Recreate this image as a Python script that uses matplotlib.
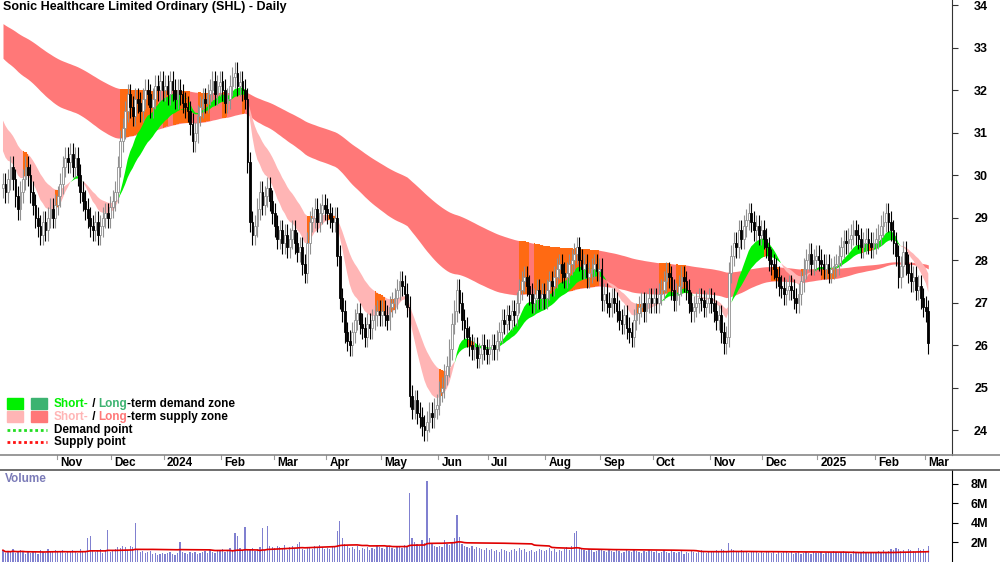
import numpy as np
import pandas as pd
import matplotlib
matplotlib.use("Agg")
import matplotlib.pyplot as plt

title = "Sonic Healthcare Limited Ordinary (SHL) - Daily"
month_labels = ["Oct", "Nov", "Dec", "2024", "Feb", "Mar", "Apr", "May", "Jun", "Jul", "Aug", "Sep",
                "Oct", "Nov", "Dec", "2025", "Feb", "Mar"]
closes_by_month = [
    [29.8,29.6,29.9,30.2,29.9,29.5,29.2,29.6,29.9,30.2,30.0,29.6,29.3,29.0,28.8,28.6,28.9,28.7,29.0,29.2,29.0,29.3],
    [29.5,29.8,30.2,30.4,30.3,30.5,30.2,30.4,30.0,29.6,29.4,29.2,29.0,28.8,28.7,28.9,28.6,28.8,29.0,29.1,29.0,29.25],
    [29.4,29.6,30.2,30.8,31.1,31.5,31.9,31.6,31.4,31.8,31.7,31.5,31.8,32.0,31.9,31.6,31.8,32.1,32.0,32.2,32.0],
    [32.1,31.9,32.2,32.0,31.8,32.0,31.9,31.7,31.6,31.5,31.2,30.8,31.0,31.4,31.6,31.8,31.7,31.9,32.0,32.2,31.9,32.1,32.2],
    [32.0,31.7,31.8,32.1,32.3,32.4,32.1,32.2,32.0,31.8,30.3,28.9,28.6,28.8,29.2,29.6,29.3,29.5,29.7,29.4,29.1],
    [28.8,28.5,28.7,28.4,28.6,28.3,28.5,28.7,28.4,28.2,28.3,27.9,27.7,28.4,28.9,29.0,29.2,28.9,29.1,29.3,29.2],
    [29.1,29.0,28.9,29.0,28.1,27.1,26.8,26.3,26.1,26.0,26.3,26.6,26.75,26.5,26.4,26.2,26.5,26.4,26.6,26.7,26.8,26.7],
    [26.8,26.7,26.6,26.9,27.0,27.1,27.3,27.5,27.4,27.2,26.9,24.8,24.5,24.7,24.4,24.3,24.1,24.0,24.2,24.4,24.3,24.5,24.6],
    [24.9,25.0,25.3,25.5,25.9,26.5,26.8,27.3,27.0,26.6,26.4,26.2,26.0,25.9,25.95,25.7,25.8,26.0,25.9,25.8],
    [25.9,26.0,25.9,26.1,26.3,26.6,26.5,26.7,26.6,26.8,26.7,27.0,27.3,27.5,27.6,27.4,27.2,27.0,27.1,27.3,27.1,27.2,27.1],
    [27.3,27.5,27.4,27.6,27.8,27.9,27.7,27.6,27.7,27.9,28.0,28.15,28.3,28.0,27.8,27.9,27.6,27.7,27.8,27.9,27.75,27.8],
    [27.05,27.2,27.0,26.9,27.1,27.0,26.8,26.6,26.5,26.7,26.4,26.3,26.2,26.6,26.75,26.9,27.0,26.8,27.0,27.1,27.0],
    [27.1,27.0,27.2,27.3,27.5,27.7,27.6,27.3,27.05,27.2,27.4,27.6,27.5,27.3,27.0,26.8,26.9,27.0,27.1,27.05,26.9,27.0,27.1],
    [27.0,26.8,26.6,26.7,26.3,26.05,26.2,27.7,28.1,28.4,28.3,28.7,28.5,28.8,28.95,29.1,28.9,28.7,28.8,28.6,28.7],
    [28.5,28.3,28.0,27.9,27.8,27.6,27.4,27.35,27.2,27.3,27.4,27.3,27.1,27.0,27.2,27.5,27.8,28.0,28.15,27.9,28.0,28.1],
    [28.0,27.9,27.8,27.9,27.7,27.8,27.85,27.9,28.1,28.3,28.45,28.4,28.5,28.6,28.7,28.6,28.5,28.3,28.4,28.5,28.4,28.3,28.4],
    [28.5,28.6,28.8,28.9,29.1,28.9,28.7,28.4,28.1,27.6,27.85,28.2,27.9,27.7,27.5,27.6,27.3,27.4,27.1,26.9],
    [26.8,26.05],
]
volume_by_month = [  # millions
    [1.2,0.9,1.1,1.0,1.3,0.9,1.0,1.2,1.1,0.8,1.0,0.9,1.1,1.0,0.8,1.2,1.0,0.9,1.3,1.1,1.0,1.2],
    [1.0,1.1,1.2,0.9,1.0,1.1,1.2,1.0,0.9,1.3,1.1,1.0,2.5,2.7,1.1,1.0,1.2,1.3,0.9,1.2,3.3,1.0],
    [1.1,1.3,1.5,1.4,1.6,1.5,1.2,1.6,1.5,4.0,1.2,1.0,1.1,0.9,1.0,1.1,0.8,0.9,0.7,0.8,0.9],
    [0.8,0.9,1.0,0.8,0.7,0.9,2.0,1.0,0.9,0.8,1.0,0.9,1.0,0.8,0.9,1.0,1.1,0.9,1.2,1.0,0.9,1.1,1.2],
    [1.3,1.0,1.2,1.4,1.1,3.0,2.7,1.4,1.2,3.6,1.3,1.2,1.4,1.1,1.3,1.5,3.5,1.2,3.7,1.6,1.5],
    [1.4,1.6,1.5,1.3,1.7,1.2,1.5,1.6,1.4,1.8,2.0,1.3,1.2,1.4,1.5,1.3,1.6,1.4,1.7,1.5,1.3],
    [1.4,1.3,1.6,1.5,3.2,4.2,2.5,1.8,1.6,1.4,1.5,1.3,1.6,1.2,1.4,1.3,1.5,1.2,1.4,1.3,1.6,1.5],
    [1.4,1.3,1.5,1.6,1.4,1.3,1.5,1.6,1.4,1.7,1.5,7.0,2.5,2.0,1.8,1.6,2.2,1.9,8.3,2.4,1.8,1.6,1.5],
    [1.6,1.5,2.2,1.8,1.7,2.0,2.4,4.8,2.6,1.8,1.6,1.5,1.4,1.6,1.3,1.5,1.4,1.3,1.2,1.4],
    [1.2,1.3,1.1,1.2,1.0,1.3,1.2,1.1,1.0,1.2,1.3,1.1,1.4,1.2,1.3,1.0,1.1,1.2,1.0,1.1,1.3,1.2,1.1],
    [1.2,1.4,1.1,1.3,1.0,1.2,1.1,1.3,1.5,1.2,1.6,3.0,3.2,1.4,1.3,1.2,1.1,1.3,1.2,1.0,1.1,1.2],
    [1.2,1.1,1.0,1.3,1.1,1.0,1.2,1.1,0.9,1.0,1.2,1.1,1.0,1.3,1.1,1.0,0.9,1.1,1.0,1.2,1.1],
    [1.0,1.1,0.9,1.0,1.2,1.0,0.9,1.1,1.0,0.9,1.0,1.1,0.8,1.0,0.9,1.1,1.0,0.9,1.0,1.2,1.0,0.9,1.0],
    [1.1,1.0,1.2,1.0,1.3,1.2,1.1,1.9,1.3,1.2,1.0,1.1,1.2,1.0,1.1,0.9,1.0,1.1,1.0,0.9,1.0],
    [0.9,1.0,1.1,0.9,1.0,0.8,1.0,0.9,1.1,1.0,0.9,1.0,0.8,0.9,1.0,0.8,0.9,1.0,0.9,0.8,1.0,0.9],
    [0.9,1.0,0.8,0.9,1.0,0.9,1.1,1.0,0.9,1.0,1.1,0.9,1.0,0.8,1.1,1.0,0.9,1.0,1.1,0.9,1.0,0.9,1.0],
    [1.0,1.1,0.9,1.2,1.0,1.1,1.3,1.2,1.4,1.3,1.1,1.2,1.0,1.3,1.2,1.1,1.0,1.4,1.2,1.3],
    [1.1,1.6],
]
seed_short = (30.7, 31.4)   # fast, slow EMA seeds
seed_long = (32.8, 33.6)
spans_short = (12, 26)
spans_long = (110, 200)

close = np.array([v for m in closes_by_month for v in m])
vol = np.array([v for m in volume_by_month for v in m])
n = len(close)
x = np.arange(n)
opn = np.concatenate([[close[0] - 0.1], close[:-1]])
hi = np.maximum(opn, close) + 0.25
lo = np.minimum(opn, close) - 0.25

def ema(vals, span, seed):
    a = 2 / (span + 1)
    out = np.empty(len(vals)); prev = seed
    for i, v in enumerate(vals):
        prev = prev + a * (v - prev); out[i] = prev
    return out

sf, ss = ema(close, spans_short[0], seed_short[0]), ema(close, spans_short[1], seed_short[1])
lf, ls = ema(close, spans_long[0], seed_long[0]), ema(close, spans_long[1], seed_long[1])
s_lo, s_hi = np.minimum(sf, ss), np.maximum(sf, ss)
l_lo, l_hi = np.minimum(lf, ls), np.maximum(lf, ls)
l_or = (close >= l_lo - 0.15) & (close <= l_hi + 0.15)
s_or = (close >= s_lo - 0.05) & (close <= s_hi + 0.05)

W, H = 1000, 562
fig = plt.figure(figsize=(W/100, H/100), dpi=100)
plt.rcParams['font.family'] = ['Liberation Sans', 'DejaVu Sans']
ax = fig.add_axes([0, (H-455)/H, 952/W, 455/H])
axv = fig.add_axes([0, 0, 952/W, (562-470)/H])

C_LS, C_SS, C_SD, C_LD, C_OR = '#FF7878', '#FFB5B5', '#00F000', '#3CB371', '#FF6A13'
ax.fill_between(x, l_lo, l_hi, where=(lf <= ls), color=C_LS, lw=0, interpolate=True)
ax.fill_between(x, l_lo, l_hi, where=(lf > ls), color=C_LD, lw=0, interpolate=True)
ax.fill_between(x, l_lo, l_hi, where=l_or, color=C_OR, lw=0, step='mid')
ax.fill_between(x, s_lo, s_hi, where=(sf <= ss), color=C_SS, lw=0, interpolate=True)
ax.fill_between(x, s_lo, s_hi, where=(sf > ss), color=C_SD, lw=0, interpolate=True)
ax.fill_between(x, s_lo, s_hi, where=s_or, color=C_OR, lw=0, step='mid')

up = close >= opn
ax.vlines(x, lo, hi, color=np.where(up, '#909090', '#000000'), lw=0.8, zorder=3)
ax.bar(x[up], (close-opn)[up], bottom=opn[up], width=0.7, color='white', edgecolor='#909090', lw=0.6, zorder=4)
ax.bar(x[~up], (close-opn)[~up], bottom=opn[~up], width=0.7, color='black', edgecolor='black', lw=0.6, zorder=4)

ax.set_xlim(-1.2, 380.5)
ax.set_ylim(34 - 450/42.5, 34 + 5/42.5)
ax.yaxis.tick_right()
ax.set_yticks(range(24, 35))
ax.tick_params(axis='y', length=4, pad=22, labelsize=9, color='#333333')
for t in ax.get_yticklabels():
    t.set_fontweight('bold'); t.set_ha('right')
ax.set_xticks([])
for s in ['top', 'left', 'bottom']:
    ax.spines[s].set_visible(False)
ax.spines['right'].set_color('#333333')
ax.text(0.003, 0.998, title, transform=ax.transAxes, ha='left', va='top', fontsize=9, fontweight='bold')

bounds = np.cumsum([0] + [len(m) for m in closes_by_month])
ax_date = fig.add_axes([0, (H-470)/H, 952/W, 15/H])
ax_date.set_xlim(ax.get_xlim()); ax_date.set_ylim(0, 1)
ax_date.axis('off')
fig.add_artist(plt.Line2D([0, 1], [(H-455)/H]*2, color='#888888', lw=1.2))
fig.add_artist(plt.Line2D([0, 1], [(H-470)/H]*2, color='#555555', lw=1.2))
for b, lab in zip(bounds[1:-1], month_labels[1:]):
    ax_date.plot([b-0.5, b-0.5], [0.75, 1], color='#999999', lw=0.8)
    ax_date.text(b + 0.8, 0.45, lab, ha='left', va='center', fontsize=8.5, fontweight='bold')

fig.canvas.draw()
r = fig.canvas.get_renderer()
items = [((C_SD, C_LD), 'demand zone'), ((C_SS, C_LS), 'supply zone')]
for i, ((c1, c2), word) in enumerate(items):
    yy = 404 + i*13
    fig.patches.append(plt.Rectangle((7/W, 1-(yy+5)/H), 16/W, 11/H, color=c1, transform=fig.transFigure))
    fig.patches.append(plt.Rectangle((31/W, 1-(yy+5)/H), 16/W, 11/H, color=c2, transform=fig.transFigure))
    parts = [('Short-', c1), (' / ', 'black'), ('Long', c2), ('-term ' + word, 'black')]
    xx = 54
    for txt, col in parts:
        tt = fig.text(xx/W, 1-yy/H, txt, color=col, fontsize=8.5, fontweight='bold', va='center')
        xx += tt.get_window_extent(r).width
for i, (col, lab) in enumerate([('#22DD22', 'Demand point'), ('#FF1111', 'Supply point')]):
    yy = 430 + i*12
    fig.add_artist(plt.Line2D([7/W, 47/W], [1-yy/H]*2, color=col, lw=2, ls=(0, (1, 1))))
    fig.text(54/W, 1-yy/H, lab, fontsize=8.5, fontweight='bold', va='center')

axv.bar(x, vol, width=0.5, color='#8080D0')
axv.plot(x, pd.Series(vol).rolling(50, min_periods=1).mean(), color='#E00000', lw=1.2)
axv.set_xlim(ax.get_xlim()); axv.set_ylim(0, 92/9.8)
axv.yaxis.tick_right(); axv.set_yticks([2, 4, 6, 8]); axv.set_yticklabels(['2M', '4M', '6M', '8M'])
axv.tick_params(axis='y', length=4, pad=22, labelsize=9)
for t in axv.get_yticklabels():
    t.set_fontweight('bold'); t.set_ha('right')
axv.set_xticks([])
for s in ['top', 'left', 'bottom']:
    axv.spines[s].set_visible(False)
axv.text(0.005, 0.97, 'Volume', transform=axv.transAxes, ha='left', va='top', fontsize=8.5,
         fontweight='bold', color='#7B7BB8')
fig.savefig('out.png', dpi=100)
